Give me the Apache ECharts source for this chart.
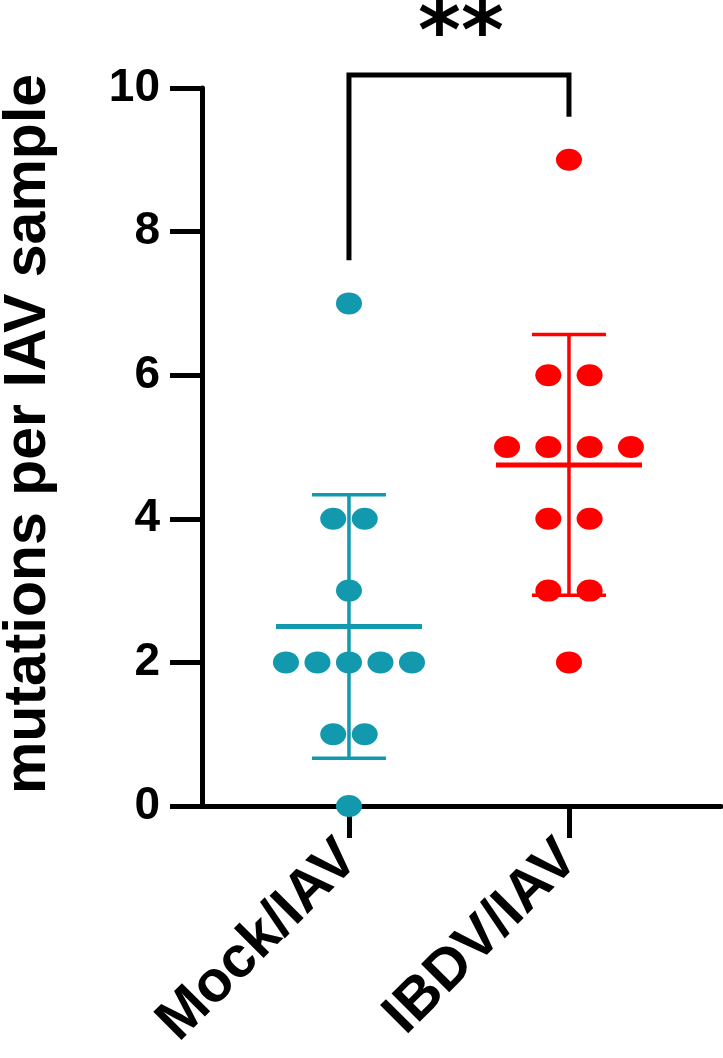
<!DOCTYPE html>
<html><head><meta charset="utf-8">
<script src="https://cdn.jsdelivr.net/npm/echarts@6/dist/echarts.min.js"></script>
<style>html,body{margin:0;padding:0;background:#fff}#c{width:723px;height:1058px}</style>
</head><body><div id="c"></div>
<script>
// ---- data ----
const categories = ['Mock/IAV', 'IBDV/IAV'];
const mockValues = [7, 4, 4, 3, 2, 2, 2, 2, 2, 1, 1, 0];
const ibdvValues = [9, 6, 6, 5, 5, 5, 5, 4, 4, 3, 3, 2];
const yTicks = [0, 2, 4, 6, 8, 10];
const yAxisName = 'mutations per IAV sample';
const significanceLabel = '**';
const bracketLeftBottom = 7.6;
const bracketTop = 10.18;
const bracketRightBottom = 9.6;

// ---- styling ----
const FONT = '"Liberation Sans", Arial, Helvetica, sans-serif';
const groupStyles = [
  { color: '#1399ae', spacing: 31.5 },
  { color: '#ff0000', spacing: 41.3 }
];
const groupValues = [mockValues, ibdvValues];

function stats(arr) {
  const n = arr.length;
  const mean = arr.reduce((a, b) => a + b, 0) / n;
  const v = arr.reduce((a, b) => a + (b - mean) * (b - mean), 0) / (n - 1);
  return { mean, sd: Math.sqrt(v) };
}

// beeswarm-style layout: spread equal values horizontally
function swarm(values, gx, spacing) {
  const counts = {};
  values.forEach(v => counts[v] = (counts[v] || 0) + 1);
  const seen = {};
  return values.map(v => {
    const n = counts[v];
    const i = seen[v] = (seen[v] === undefined ? 0 : seen[v] + 1);
    return { value: [gx, v], symbolOffset: [(i - (n - 1) / 2) * spacing, 0] };
  });
}

const series = [];
groupValues.forEach((vals, gi) => {
  const st = groupStyles[gi];
  series.push({
    type: 'scatter',
    name: categories[gi],
    data: swarm(vals, gi + 1, st.spacing),
    symbol: 'circle',
    symbolSize: [26, 22],
    itemStyle: { color: st.color, opacity: 1 },
    z: 3,
    clip: false
  });
  const s = stats(vals);
  series.push({
    type: 'custom',
    name: categories[gi] + ' mean±SD',
    clip: false,
    z: 4,
    data: [[gi + 1, s.mean, s.mean - s.sd, s.mean + s.sd]],
    renderItem: function (params, api) {
      const x = api.value(0);
      const pm = api.coord([x, api.value(1)]);
      const pl = api.coord([x, api.value(2)]);
      const ph = api.coord([x, api.value(3)]);
      const capW = 37, meanW = 73;
      const ls = { stroke: st.color, lineWidth: 3.5 };
      return {
        type: 'group',
        children: [
          { type: 'line', shape: { x1: pl[0], y1: pl[1], x2: ph[0], y2: ph[1] }, style: ls },
          { type: 'line', shape: { x1: pl[0] - capW, y1: pl[1], x2: pl[0] + capW, y2: pl[1] }, style: ls },
          { type: 'line', shape: { x1: ph[0] - capW, y1: ph[1], x2: ph[0] + capW, y2: ph[1] }, style: ls },
          { type: 'line', shape: { x1: pm[0] - meanW, y1: pm[1], x2: pm[0] + meanW, y2: pm[1] }, style: { stroke: st.color, lineWidth: 5 } }
        ]
      };
    }
  });
});

// significance bracket
series.push({
  type: 'custom',
  name: 'significance',
  clip: false,
  z: 5,
  data: [[1, 2, bracketLeftBottom, bracketTop, bracketRightBottom]],
  renderItem: function (params, api) {
    const x1 = api.value(0), x2 = api.value(1);
    const a = api.coord([x1, api.value(2)]);
    const b = api.coord([x1, api.value(3)]);
    const c = api.coord([x2, api.value(3)]);
    const d = api.coord([x2, api.value(4)]);
    return {
      type: 'group',
      children: [
        { type: 'polyline', shape: { points: [a, b, c, d] },
          style: { stroke: '#000', lineWidth: 5, fill: null, lineJoin: 'miter' } },
        { type: 'text', x: (b[0] + c[0]) / 2 + 2, y: b[1] - 37,
          style: { text: significanceLabel, font: 'bold 82px "DejaVu Sans", ' + FONT, fill: '#000',
                   align: 'center', verticalAlign: 'middle' } }
      ]
    };
  }
});

const chart = echarts.init(document.getElementById('c'), null, { renderer: 'canvas' });
chart.setOption({
  backgroundColor: '#fff',
  animation: false,
  grid: { left: 202, right: 2, top: 88, bottom: 252, containLabel: false, outerBoundsMode: 'none' },
  xAxis: {
    type: 'value',
    min: 0.332,
    max: 2.691,
    splitLine: { show: false },
    axisLine: { show: true, onZero: false, lineStyle: { color: '#000', width: 5 } },
    axisTick: { show: true, customValues: [1, 2], length: 32, lineStyle: { color: '#000', width: 5 } },
    axisLabel: {
      show: true, customValues: [1, 2], rotate: 45, margin: 44,
      formatter: v => categories[Math.round(v) - 1] || '',
      color: '#000', fontSize: 58, fontWeight: 'bold', fontFamily: FONT
    }
  },
  yAxis: {
    type: 'value',
    min: 0, max: 10, interval: 2,
    name: yAxisName,
    nameLocation: 'middle',
    nameRotate: 90,
    nameGap: 144,
    nameTextStyle: { color: '#000', fontSize: 59, fontWeight: 'bold', fontFamily: FONT, padding: [0, 0, 0, 26] },
    splitLine: { show: false },
    axisLine: { show: true, lineStyle: { color: '#000', width: 5 } },
    axisTick: { show: true, length: 32, lineStyle: { color: '#000', width: 5 } },
    axisLabel: {
      margin: 42, color: '#000', fontSize: 46, fontWeight: 'bold', fontFamily: FONT,
      formatter: v => (yTicks.indexOf(v) >= 0 ? String(v) : '')
    }
  },
  series: series
});
</script>
</body></html>
